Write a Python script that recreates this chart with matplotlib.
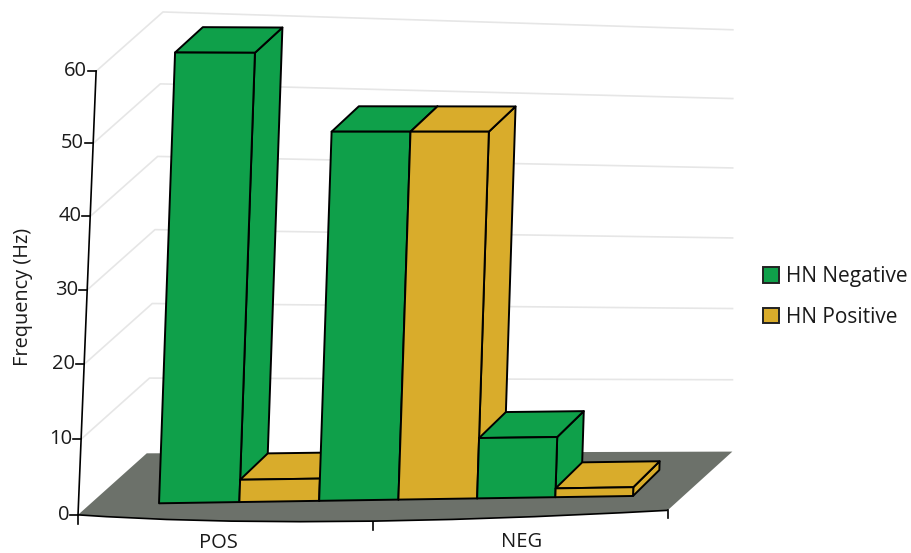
import matplotlib

matplotlib.use("Agg")
import matplotlib.pyplot as plt
import numpy as np
from matplotlib.patches import Patch, PathPatch, Polygon
from matplotlib.path import Path

plt.rcParams["font.family"] = ["Open Sans", "DejaVu Sans"]

series_names = ["HN Negative", "HN Positive"]
series_colors = ["#0FA04A", "#D9AC2B"]
hn_negative = [60.7, 50, 8.2]
hn_positive = [3, 50, 1.2]
categories = ["POS", "NEG"]
y_ticks = [0, 10, 20, 30, 40, 50, 60]

# extents of the floor, in bar slots along x and bar depths along z
X0, X1 = -0.8, 6.7
Z0, Z1 = -0.45, 1.78

# perspective cameras: (slot, value, depth) -> figure pixels
BAR_CAMERA = np.array([
    [81.1439418, 0.2792836, 28.3598745, 159.020827],
    [0.4586042, -7.4220224, -25.4250712, 503.3007691],
    [0.0033847, 8.56e-05, 0.0022761, 1.0],
])
BOX_CAMERA = np.array([
    [82.3961884, 0.3440979, 30.7552104, 157.3569196],
    [2.616981, -7.3220647, -27.1459523, 501.9838604],
    [0.0063017, 0.000458, 0.0006677, 1.0],
])


def project(x, y, z, camera=BOX_CAMERA):
    u, v, w = camera @ np.array([x, y, z, 1.0])
    return u / w, v / w


def box_faces(i, value):
    x0, x1 = i, i + 1
    corners = [
        [(x1, 0, 0), (x1, 0, 1), (x1, value, 1), (x1, value, 0)],
        [(x0, value, 0), (x1, value, 0), (x1, value, 1), (x0, value, 1)],
        [(x0, 0, 0), (x1, 0, 0), (x1, value, 0), (x0, value, 0)],
    ]
    return [[project(*c, BAR_CAMERA) for c in face] for face in corners]


fig = plt.figure(figsize=(9.12, 5.53), dpi=100)
ax = fig.add_axes([0, 0, 1, 1])
ax.set_xlim(0, 912)
ax.set_ylim(553, 0)
ax.axis("off")

# gridlines on the side and back walls
for t in y_ticks[1:]:
    pts = [project(X0, t, Z0), project(X0, t, Z1), project(X1, t, Z1)]
    ax.plot(*zip(*pts), color="#E6E6E6", lw=1.2, zorder=1)

# floor, front edge bows downward
fl, fr = project(X0, 0, Z0), project(X1, 0, Z0)
bend = (300, 530.5)
floor = Path(
    [fl, bend, fr, project(X1, 0, Z1), project(X0, 0, Z1), fl],
    [Path.MOVETO, Path.CURVE3, Path.CURVE3, Path.LINETO, Path.LINETO, Path.CLOSEPOLY],
)
ax.add_patch(PathPatch(floor, fc="#6C716A", ec="none", zorder=2))
edge = Path([fl, bend, fr], [Path.MOVETO, Path.CURVE3, Path.CURVE3])
ax.add_patch(PathPatch(edge, fc="none", ec="black", lw=1.2, zorder=3))

# bars, painted left to right so each one covers its neighbour
values = [v for pair in zip(hn_negative, hn_positive) for v in pair]
for i, value in enumerate(values):
    color = series_colors[i % 2]
    for face in box_faces(i, value):
        ax.add_patch(Polygon(face, fc=color, ec="black", lw=1.4, joinstyle="round", zorder=4 + i))

# value axis
ax.plot(*zip(project(X0, 0, Z0), project(X0, 60, Z0)), color="black", lw=1.2, zorder=12)
for t in y_ticks:
    u, v = project(X0, t, Z0)
    ax.plot([u - 8, u], [v, v], color="black", lw=1.2, zorder=12)
    ax.text(u - 9, v, str(t), ha="right", va="center", fontsize=14.5, color="#1a1a1a")
ax.text(23, 297, "Frequency (Hz)", rotation=90, ha="center", va="center", fontsize=14.3, color="#1a1a1a")

# category axis
ax.plot([fl[0], fl[0]], [fl[1], fl[1] + 9], color="black", lw=1.2)
ax.plot([fr[0], fr[0]], [fr[1], fr[1] + 8], color="black", lw=1.2)
ax.plot([373, 373], [522, 530], color="black", lw=1.2)
ax.text(218, 543, categories[0], ha="center", va="center", fontsize=14.5, color="#1a1a1a")
ax.text(522, 542, categories[1], ha="center", va="center", fontsize=14.5, color="#1a1a1a")

handles = [Patch(fc=c, ec="#222222", lw=1.4, label=n) for c, n in zip(series_colors, series_names)]
ax.legend(
    handles=handles, loc="center left", bbox_to_anchor=(763, 297), bbox_transform=ax.transData,
    frameon=False, fontsize=15, labelcolor="#1a1a1a", borderpad=0, borderaxespad=0,
    handlelength=0.77, handleheight=0.77, handletextpad=0.33, labelspacing=0.95,
)

fig.savefig("out.png", dpi=100)
